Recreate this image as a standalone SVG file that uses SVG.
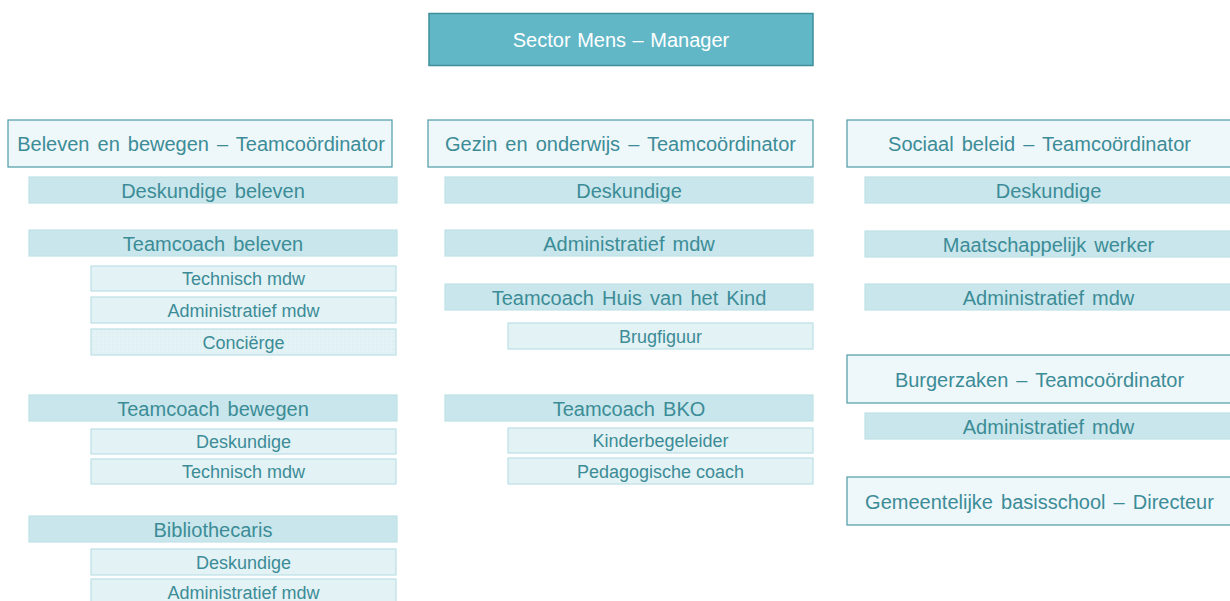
<svg xmlns="http://www.w3.org/2000/svg" width="1230" height="601" viewBox="0 0 1230 601">
<defs>
<pattern id="dots" width="4" height="4" patternUnits="userSpaceOnUse">
<rect width="4" height="4" fill="#e3f2f5"/>
<circle cx="1" cy="1" r="0.6" fill="#cfe8ec"/>
</pattern>
</defs>
<style>
text{font-family:"Liberation Sans",Arial,sans-serif;text-anchor:middle;fill:#3c8c97}
.mgr rect{fill:#62b7c7;stroke:#3f8f9b;stroke-width:1.5}
.mgr text{fill:#ffffff;font-size:20px;word-spacing:1px}
.co rect{fill:#eef7fa;stroke:#4e9aa6;stroke-width:1.2}
.co text{font-size:20px;word-spacing:2.5px}
.l2 rect{fill:#c8e6eb;stroke:#bfe2e7;stroke-width:1.2}
.l2 text{font-size:20px;word-spacing:2.5px}
.l3 rect{fill:#e3f2f5;stroke:#bde0e6;stroke-width:1.2}
.l3 text{font-size:18px}
</style>
<rect width="1230" height="601" fill="#ffffff"/>
<g id="connectors"/>

<g id="manager" class="mgr"><rect x="429" y="13.5" width="384" height="52"/><text x="621" y="47">Sector Mens – Manager</text></g>

<g id="co-beleven" class="co"><rect x="8" y="120" width="384" height="47"/><text x="201" y="151">Beleven en bewegen – Teamcoördinator</text></g>
<g id="b-desk" class="l2"><rect x="29" y="177" width="368" height="26"/><text x="213" y="197.5">Deskundige beleven</text></g>
<g id="b-tc-beleven" class="l2"><rect x="29" y="230" width="368" height="26"/><text x="213" y="250.5">Teamcoach beleven</text></g>
<g id="b-tech1" class="l3"><rect x="91" y="266" width="305" height="25"/><text x="243.5" y="285">Technisch mdw</text></g>
<g id="b-adm1" class="l3"><rect x="91" y="297" width="305" height="26"/><text x="243.5" y="316.5">Administratief mdw</text></g>
<g id="b-concierge" class="l3"><rect x="91" y="329" width="305" height="26" style="fill:url(#dots)"/><text x="243.5" y="348.5">Conciërge</text></g>
<g id="b-tc-bewegen" class="l2"><rect x="29" y="395" width="368" height="26"/><text x="213" y="415.5">Teamcoach bewegen</text></g>
<g id="b-desk2" class="l3"><rect x="91" y="429" width="305" height="25"/><text x="243.5" y="448">Deskundige</text></g>
<g id="b-tech2" class="l3"><rect x="91" y="459" width="305" height="25"/><text x="243.5" y="478">Technisch mdw</text></g>
<g id="b-biblio" class="l2"><rect x="29" y="516" width="368" height="26"/><text x="213" y="536.5">Bibliothecaris</text></g>
<g id="b-desk3" class="l3"><rect x="91" y="549" width="305" height="26"/><text x="243.5" y="568.5">Deskundige</text></g>
<g id="b-adm3" class="l3"><rect x="91" y="579" width="305" height="26"/><text x="243.5" y="598.5">Administratief mdw</text></g>

<g id="co-gezin" class="co"><rect x="428" y="120" width="385" height="47"/><text x="620.5" y="151">Gezin en onderwijs – Teamcoördinator</text></g>
<g id="g-desk" class="l2"><rect x="445" y="177" width="368" height="26"/><text x="629" y="197.5">Deskundige</text></g>
<g id="g-adm" class="l2"><rect x="445" y="230" width="368" height="26"/><text x="629" y="250.5">Administratief mdw</text></g>
<g id="g-tc-huis" class="l2"><rect x="445" y="284" width="368" height="26"/><text x="629" y="304.5">Teamcoach Huis van het Kind</text></g>
<g id="g-brug" class="l3"><rect x="508" y="323" width="305" height="26"/><text x="660.5" y="342.5">Brugfiguur</text></g>
<g id="g-tc-bko" class="l2"><rect x="445" y="395" width="368" height="26"/><text x="629" y="415.5">Teamcoach BKO</text></g>
<g id="g-kind" class="l3"><rect x="508" y="428" width="305" height="25"/><text x="660.5" y="447">Kinderbegeleider</text></g>
<g id="g-ped" class="l3"><rect x="508" y="458" width="305" height="26"/><text x="660.5" y="477.5">Pedagogische coach</text></g>

<g id="co-sociaal" class="co"><rect x="847" y="120" width="385" height="47"/><text x="1039.5" y="151">Sociaal beleid – Teamcoördinator</text></g>
<g id="s-desk" class="l2"><rect x="865" y="177" width="367" height="26"/><text x="1048.5" y="197.5">Deskundige</text></g>
<g id="s-maat" class="l2"><rect x="865" y="231" width="367" height="26"/><text x="1048.5" y="251.5">Maatschappelijk werker</text></g>
<g id="s-adm" class="l2"><rect x="865" y="284" width="367" height="26"/><text x="1048.5" y="304.5">Administratief mdw</text></g>

<g id="co-burger" class="co"><rect x="847" y="355" width="385" height="48"/><text x="1039.5" y="386.5">Burgerzaken – Teamcoördinator</text></g>
<g id="bz-adm" class="l2"><rect x="865" y="413" width="367" height="26"/><text x="1048.5" y="433.5">Administratief mdw</text></g>

<g id="co-school" class="co"><rect x="847" y="477" width="385" height="48"/><text x="1039.5" y="508.5">Gemeentelijke basisschool – Directeur</text></g>
</svg>
